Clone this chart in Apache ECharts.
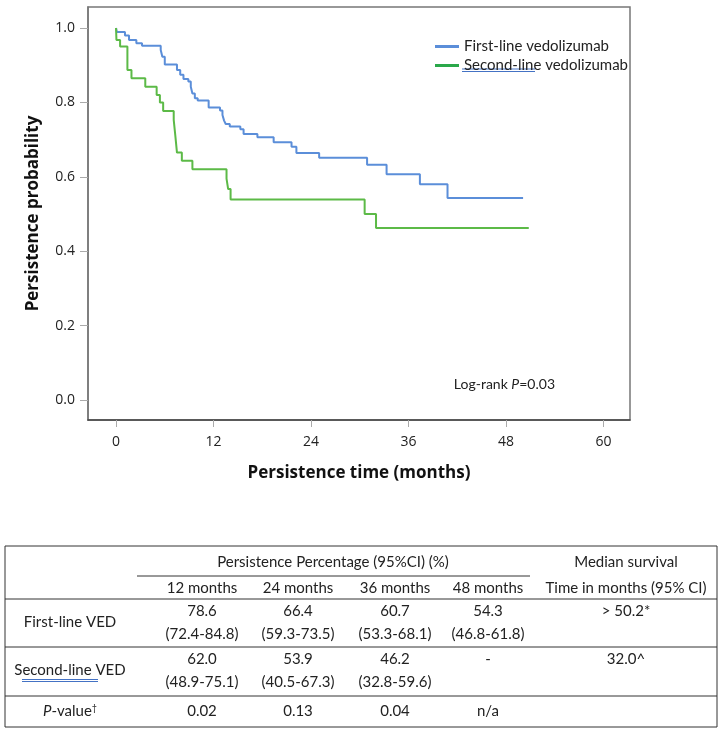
<!DOCTYPE html>
<html><head><meta charset="utf-8">
<script src="https://cdn.jsdelivr.net/npm/echarts@6/dist/echarts.min.js"></script>
<style>html,body{margin:0;padding:0;background:#fff}#c{width:722px;height:732px}</style>
</head><body><div id="c"></div>
<script>
// ---- Kaplan-Meier data (time in months, persistence probability after the step) ----
const firstLineTime = [0, 0.1, 1.1, 1.6, 2.5, 3.2, 5.5, 5.7, 6.0, 7.5, 7.9, 8.3, 8.9, 9.2, 9.4, 9.7, 10.05, 11.4, 12.8, 13.1, 13.3, 13.5, 14.0, 15.3, 15.7, 17.4, 19.4, 21.6, 22.2, 25.0, 30.9, 33.3, 37.4, 40.8, 50.1];
const firstLineSurv = [1.0, 0.989, 0.980, 0.968, 0.959, 0.952, 0.941, 0.923, 0.902, 0.887, 0.874, 0.863, 0.856, 0.842, 0.824, 0.811, 0.805, 0.786, 0.778, 0.766, 0.751, 0.742, 0.735, 0.728, 0.715, 0.706, 0.693, 0.681, 0.664, 0.651, 0.632, 0.607, 0.580, 0.543, 0.543];
const secondLineTime = [0, 0.05, 0.5, 1.4, 1.9, 3.6, 5.0, 5.4, 5.8, 7.1, 7.3, 7.5, 8.1, 9.4, 13.6, 13.8, 14.1, 30.6, 32.0, 50.8];
const secondLineSurv = [1.0, 0.968, 0.950, 0.887, 0.865, 0.842, 0.820, 0.800, 0.777, 0.753, 0.710, 0.665, 0.643, 0.620, 0.595, 0.567, 0.539, 0.500, 0.462, 0.462];
const seriesNames = ['First-line vedolizumab', 'Second-line vedolizumab'];
const xTicks = [0, 12, 24, 36, 48, 60];
const yTicks = [0, 0.2, 0.4, 0.6, 0.8, 1.0];
const xTitle = 'Persistence time (months)';
const yTitle = 'Persistence probability';

// ---- Table data ----
const headerGroup = 'Persistence Percentage (95%CI) (%)';
const headerMedian1 = 'Median survival';
const headerMedian2 = 'Time in months (95% CI)';
const timepoints = ['12 months', '24 months', '36 months', '48 months'];
const rowLabels = ['First-line VED', 'Second-line VED'];
const firstLinePct = ['78.6', '66.4', '60.7', '54.3'];
const firstLineCI = ['(72.4-84.8)', '(59.3-73.5)', '(53.3-68.1)', '(46.8-61.8)'];
const secondLinePct = ['62.0', '53.9', '46.2', '-'];
const secondLineCI = ['(48.9-75.1)', '(40.5-67.3)', '(32.8-59.6)', ''];
const pValues = ['0.02', '0.13', '0.04', 'n/a'];
const medians = ['> 50.2*', '32.0^'];

const BLUE = '#5b8ed9', GREEN = '#5cba47', LEGEND_GREEN = '#2aa84a';
const TF = 'Lato, "Open Sans", sans-serif';
const AF = '"Open Sans", sans-serif';

const chart = echarts.init(document.getElementById('c'), null, {renderer: 'canvas'});

// table geometry
const T = {left: 5, right: 717, top: 546, hdr1: 562, uline: 576, hdr2: 588, l1: 599,
  r1a: 611, r1b: 634, l2: 647, r2a: 659, r2b: 682, l3: 696, p: 711, bottom: 727};
const colX = [70, 202, 298, 395, 488, 626];
const g = [];
const txt = (x, y, text, extra) => g.push({type: 'text', silent: true, style: Object.assign({
  text, x, y, align: 'center', verticalAlign: 'middle', fontFamily: TF, fontSize: 15, fill: '#222'}, extra || {})});
const hline = (x1, x2, y, c, w) => g.push({type: 'line', silent: true, shape: {x1, y1: y, x2, y2: y}, style: {stroke: c || '#333', lineWidth: w || 1}});
g.push({type: 'rect', silent: true, shape: {x: T.left, y: T.top, width: T.right - T.left, height: T.bottom - T.top}, style: {fill: 'none', stroke: '#333', lineWidth: 1}});
hline(T.left, T.right, T.l1); hline(T.left, T.right, T.l2); hline(T.left, T.right, T.l3);
hline(137, 530, T.uline, '#333', 1);
txt(333, T.hdr1, headerGroup);
txt(colX[5], T.hdr1, headerMedian1);
txt(colX[5], T.hdr2, headerMedian2);
timepoints.forEach((t, i) => txt(colX[i + 1], T.hdr2, t));
txt(colX[0], (T.r1a + T.r1b) / 2, rowLabels[0]);
txt(colX[0], (T.r2a + T.r2b) / 2, rowLabels[1]);
firstLinePct.forEach((v, i) => txt(colX[i + 1], T.r1a, v));
firstLineCI.forEach((v, i) => txt(colX[i + 1], T.r1b, v));
secondLinePct.forEach((v, i) => txt(colX[i + 1], T.r2a, v));
secondLineCI.forEach((v, i) => txt(colX[i + 1], T.r2b, v));
txt(colX[5], T.r1a, medians[0]);
txt(colX[5], T.r2a, medians[1]);
pValues.forEach((v, i) => txt(colX[i + 1], T.p, v));
txt(colX[0], T.p, '{i|P}-value{s|\u2020}', {rich: {i: {fontStyle: 'italic', fontFamily: TF, fontSize: 15, fill: '#222'}, s: {fontSize: 9, fontFamily: TF, fill: '#222', verticalAlign: 'top', padding: [0, 0, 6, 0]}}});
hline(22, 98, (T.r2a + T.r2b) / 2 + 9, '#4472c4', 1);
hline(22, 98, (T.r2a + T.r2b) / 2 + 11, '#4472c4', 1);
hline(462, 535, 69, '#4472c4', 1);
hline(462, 535, 71.5, '#4472c4', 1);
g.push({type: 'text', silent: true, style: {text: '{a|Log-rank }{b|P}{a|=0.03}', x: 555, y: 384, align: 'right', verticalAlign: 'middle',
  rich: {a: {fontFamily: TF, fontSize: 14, fill: '#222'}, b: {fontFamily: TF, fontSize: 14, fill: '#222', fontStyle: 'italic'}}}});

const pairs = (ts, ss) => ts.map((t, i) => [t, ss[i]]);

chart.setOption({
  animation: false,
  backgroundColor: '#fff',
  grid: {left: 88, top: 7, right: 92, bottom: 312, show: true, borderColor: '#777', borderWidth: 1.5, containLabel: false},
  legend: {
    orient: 'vertical', left: 430, top: 34, itemWidth: 24, itemHeight: 3, itemGap: 4, icon: 'rect',
    textStyle: {fontFamily: TF, fontSize: 15, color: '#222'},
    data: [{name: seriesNames[0], itemStyle: {color: BLUE}}, {name: seriesNames[1], itemStyle: {color: LEGEND_GREEN}}]
  },
  xAxis: {
    type: 'value', min: -3.45, max: 63.26,
    name: xTitle, nameLocation: 'middle', nameGap: 45,
    nameTextStyle: {fontFamily: AF, fontSize: 17, fontWeight: 'bold', color: '#111'},
    axisLine: {show: true, onZero: false, lineStyle: {color: '#444', width: 1.5}},
    axisTick: {show: true, customValues: xTicks, length: 7, lineStyle: {color: '#aaa'}},
    axisLabel: {customValues: xTicks, margin: 15, fontFamily: AF, fontSize: 14, color: '#222'},
    splitLine: {show: false}
  },
  yAxis: {
    type: 'value', min: -0.054, max: 1.0565,
    name: yTitle, nameLocation: 'middle', nameGap: 46,
    nameTextStyle: {fontFamily: AF, fontSize: 17, fontWeight: 'bold', color: '#111'},
    axisLine: {show: true, onZero: false, lineStyle: {color: '#777', width: 1.5}},
    axisTick: {show: true, customValues: yTicks, length: 8, lineStyle: {color: '#aaa'}},
    axisLabel: {customValues: yTicks, margin: 13, fontFamily: AF, fontSize: 14, color: '#222', formatter: v => v.toFixed(1)},
    splitLine: {show: false}
  },
  series: [
    {name: seriesNames[0], type: 'line', step: 'end', symbol: 'none', data: pairs(firstLineTime, firstLineSurv),
      lineStyle: {color: BLUE, width: 2}, itemStyle: {color: BLUE}},
    {name: seriesNames[1], type: 'line', step: 'end', symbol: 'none', data: pairs(secondLineTime, secondLineSurv),
      lineStyle: {color: GREEN, width: 2}, itemStyle: {color: GREEN}}
  ],
  graphic: g
});
</script>
</body></html>
